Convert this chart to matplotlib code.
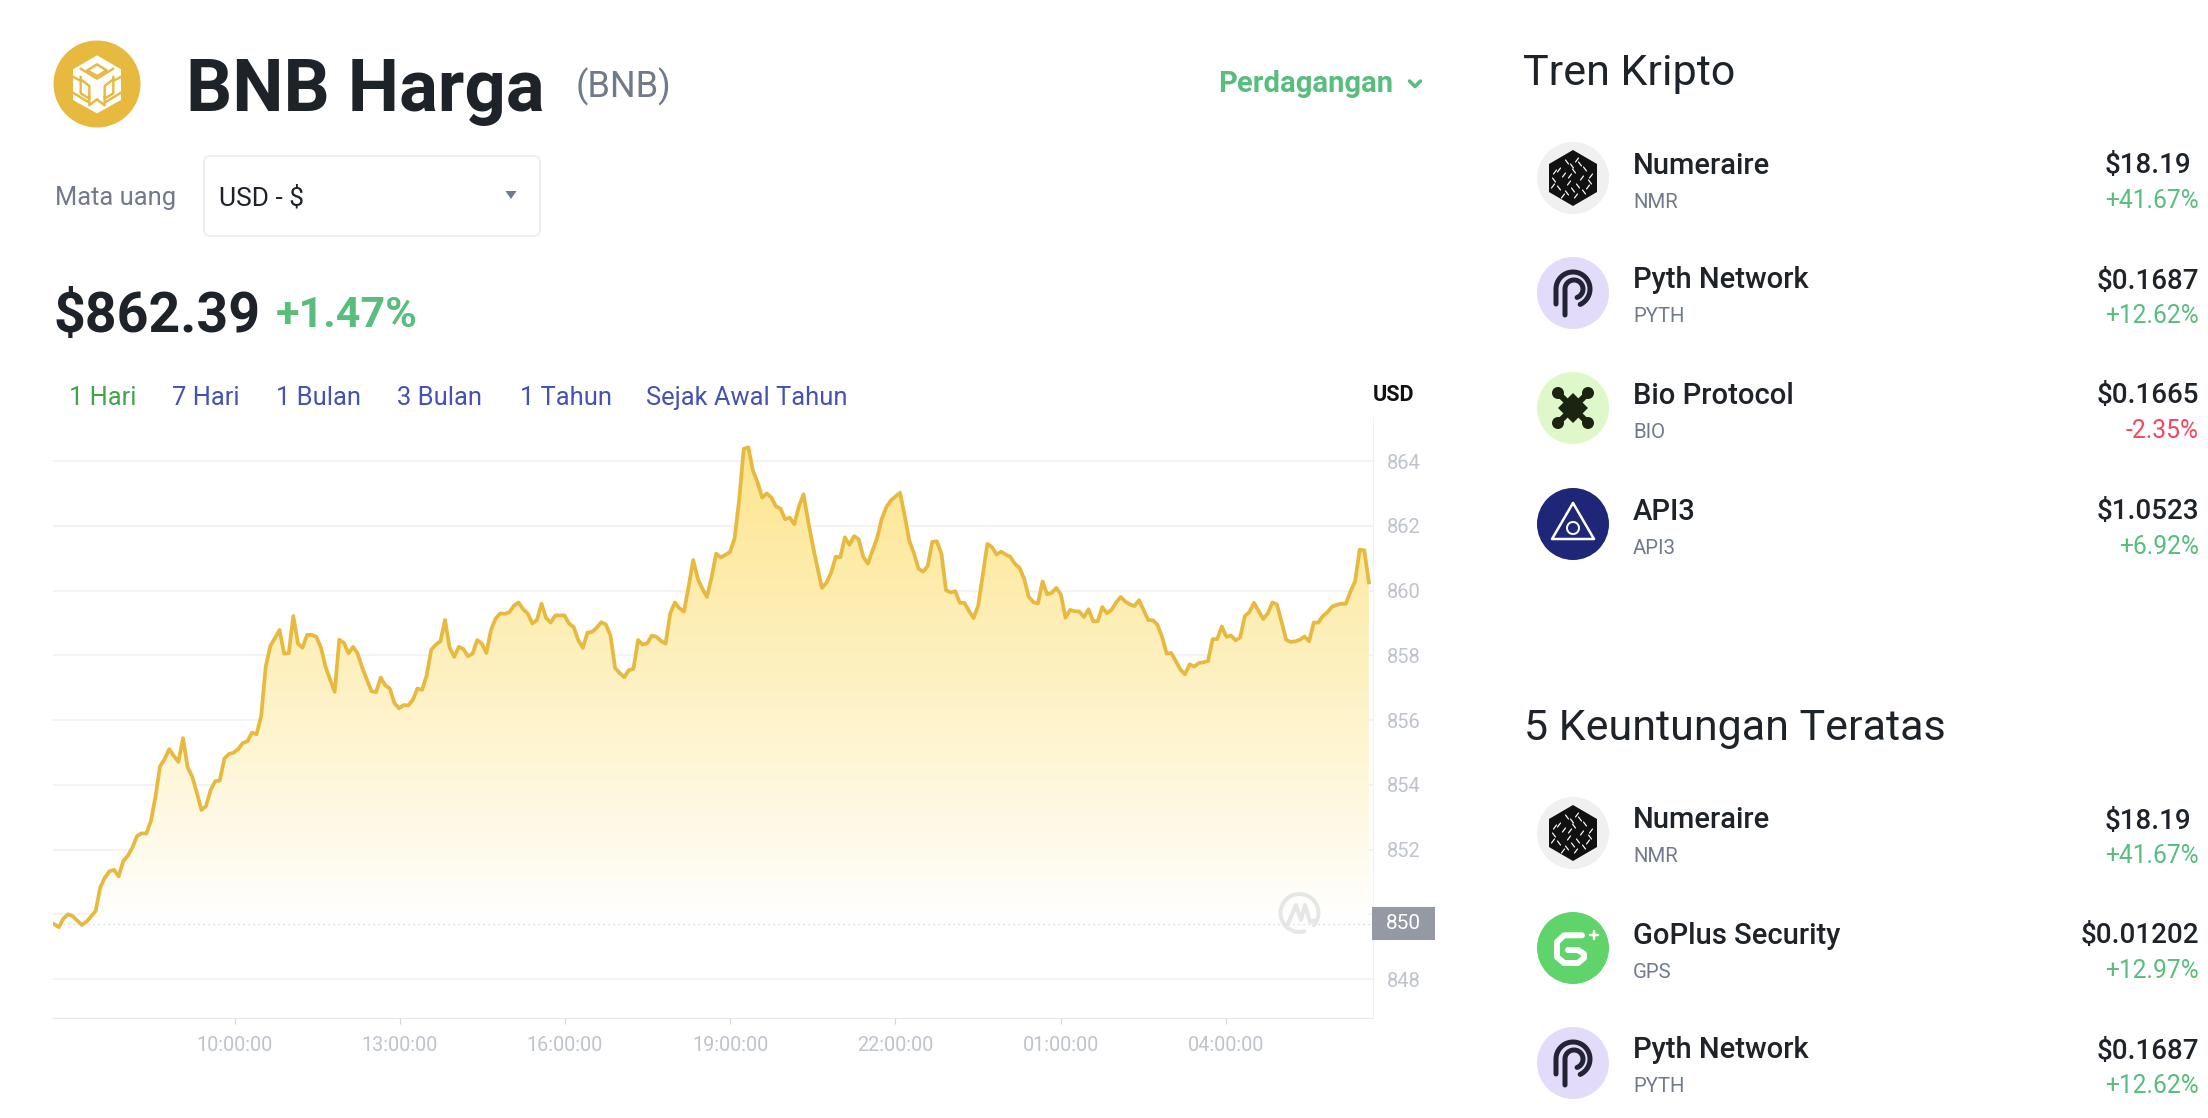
import numpy as np
import matplotlib
matplotlib.use("Agg")
import matplotlib.pyplot as plt
import matplotlib.patches as patches
from matplotlib.colors import LinearSegmentedColormap

plt.rcParams['font.family'] = ['Roboto', 'DejaVu Sans']

# BNB price, one reading every 5 minutes or so
price = [
    849.69, 849.60, 849.87, 850.00, 849.94, 849.80, 849.67, 849.77, 849.93, 850.10,
    850.83, 851.13, 851.33, 851.37, 851.17, 851.64, 851.81, 852.06, 852.42, 852.50,
    852.49, 852.87, 853.62, 854.57, 854.79, 855.10, 854.89, 854.71, 855.44, 854.54,
    854.25, 853.76, 853.22, 853.34, 853.83, 854.11, 854.13, 854.81, 854.95, 854.99,
    855.10, 855.29, 855.34, 855.61, 855.56, 856.12, 857.65, 858.29, 858.53, 858.78,
    858.05, 858.06, 859.21, 858.36, 858.23, 858.63, 858.63, 858.57, 858.24, 857.65,
    857.25, 856.87, 858.48, 858.38, 858.06, 858.26, 858.05, 857.61, 857.25, 856.89,
    856.86, 857.31, 857.07, 856.97, 856.52, 856.36, 856.46, 856.45, 856.62, 856.97,
    856.93, 857.37, 858.17, 858.33, 858.43, 859.09, 858.24, 857.95, 858.26, 858.19,
    857.97, 858.05, 858.47, 858.36, 858.07, 858.78, 859.13, 859.29, 859.28, 859.33,
    859.53, 859.63, 859.42, 859.29, 858.98, 859.09, 859.59, 859.15, 859.01, 859.23,
    859.23, 859.23, 858.98, 858.87, 858.46, 858.23, 858.70, 858.72, 858.85, 859.02,
    858.95, 858.61, 857.61, 857.45, 857.32, 857.54, 857.58, 858.47, 858.33, 858.37,
    858.61, 858.57, 858.44, 858.36, 859.29, 859.63, 859.45, 859.35, 860.12, 860.94,
    860.36, 860.05, 859.80, 860.41, 861.14, 861.02, 861.10, 861.19,
    861.61, 862.81, 864.38, 864.42, 863.70, 863.34, 862.87, 863.00, 862.87, 862.60,
    862.53, 862.20, 862.25, 862.05, 862.60, 862.97, 862.15, 861.40, 860.73, 860.08,
    860.24, 860.55, 861.04, 861.03, 861.64, 861.41, 861.68, 861.58, 861.04, 860.83,
    861.23, 861.61, 862.20, 862.57, 862.78, 862.90, 863.02, 862.32, 861.54, 861.16,
    860.68, 860.58, 860.75, 861.50, 861.52, 861.14, 860.01, 859.94, 859.98, 859.62,
    859.62, 859.37, 859.15, 859.53, 860.48, 861.44, 861.34, 861.11, 861.20, 861.11,
    861.04, 860.82, 860.70, 860.36, 859.80, 859.64, 859.60, 860.28, 859.88, 859.93,
    860.08, 859.87, 859.16, 859.40, 859.36, 859.35, 859.18, 859.42, 859.05, 859.05,
    859.49, 859.30, 859.40, 859.63, 859.80, 859.66, 859.57, 859.52, 859.70, 859.39,
    859.09, 859.08, 858.94, 858.57, 858.05, 858.07, 857.82, 857.56, 857.41, 857.72,
    857.65, 857.76, 857.78, 857.82, 858.50, 858.50, 858.89, 858.57, 858.61, 858.46,
    858.55, 859.21, 859.33, 859.62, 859.37, 859.12, 859.29, 859.63, 859.57, 859.02,
    858.48, 858.41, 858.43, 858.48, 858.58, 858.43, 859.01, 859.01, 859.21, 859.33,
    859.50, 859.56, 859.59, 859.59, 859.97, 860.28, 861.26, 861.24, 860.25,
]
start_hour = 6.726
step_hour = 0.08347
base_price = 849.71

y_ticks = [848, 850, 852, 854, 856, 858, 860, 862, 864]
y_labels = ['848', '', '852', '854', '856', '858', '860', '862', '864']  # 850 sits in the flag
x_ticks = [10, 13, 16, 19, 22, 25, 28]
x_labels = ['10:00:00', '13:00:00', '16:00:00', '19:00:00', '22:00:00', '01:00:00', '04:00:00']

ranges = ['1 Hari', '7 Hari', '1 Bulan', '3 Bulan', '1 Tahun', 'Sejak Awal Tahun']

trend_names = ['Numeraire', 'Pyth Network', 'Bio Protocol', 'API3']
trend_symbols = ['NMR', 'PYTH', 'BIO', 'API3']
trend_prices = ['$18.19', '$0.1687', '$0.1665', '$1.0523']
trend_changes = ['+41.67%', '+12.62%', '-2.35%', '+6.92%']

gain_names = ['Numeraire', 'GoPlus Security', 'Pyth Network']
gain_symbols = ['NMR', 'GPS', 'PYTH']
gain_prices = ['$18.19', '$0.01202', '$0.1687']
gain_changes = ['+41.67%', '+12.97%', '+12.62%']

W, H = 2208, 1118
DARK = '#1E2329'
GREY = '#707A8A'
GREEN = '#58BD7D'
RED = '#F6465D'
GOLD = '#E8B93F'
TICK = '#BFC3CC'

fig = plt.figure(figsize=(W / 100, H / 100), dpi=100, facecolor='white')

# the chart, placed by its pixel box
left, right, top, bottom = 53.4, 1372.5, 417, 1018
ax = fig.add_axes([left / W, 1 - bottom / H, (right - left) / W, (bottom - top) / H])
px_hour = 165.2 / 3
px_unit = 32.375
xlim = (10 - (234.6 - left) / px_hour, 10 + (right - 234.6) / px_hour)
ylim = (848 - (bottom - 979) / px_unit, 864 + (461 - top) / px_unit)

times = start_hour + np.arange(len(price)) * step_hour
values = np.array(price)

ax.grid(axis='y', color='#EFF0F3', linewidth=1.1, zorder=0)
ax.set_axisbelow(True)

# gradient under the line
area = ax.fill_between(times, base_price, values, facecolor='none', edgecolor='none')
cmap = LinearSegmentedColormap.from_list('gold', [(0, '#FFFFFF'), (0.45, '#FEF3C9'), (1, '#FDE58F')])
im = ax.imshow(np.linspace(1, 0, 256).reshape(-1, 1), cmap=cmap, aspect='auto', zorder=1,
               extent=(times[0], times[-1], base_price, values.max()))
im.set_clip_path(area.get_paths()[0], ax.transData)
ax.set_xlim(xlim)
ax.set_ylim(ylim)

ax.axhline(base_price, color='#CFCFCF', linewidth=0.9, linestyle=(0, (1, 3)), zorder=2)
ax.plot(times, values, color=GOLD, linewidth=2.7, solid_joinstyle='round', zorder=3)

for side in ['left', 'top']:
    ax.spines[side].set_visible(False)
ax.spines['right'].set_color('#EFF0F3')
ax.spines['bottom'].set_color('#E6E8EC')
ax.yaxis.tick_right()
ax.set_yticks(y_ticks)
ax.set_yticklabels(y_labels)
ax.tick_params(axis='y', length=0, pad=10, labelsize=14.5, labelcolor=TICK)
ax.set_xticks(x_ticks)
ax.set_xticklabels(x_labels)
ax.tick_params(axis='x', length=4, width=0.8, color='#D5D7DC', pad=9, labelsize=14.3, labelcolor=TICK)

# the rest of the page, in pixels
page = fig.add_axes([0, 0, 1, 1], zorder=5)
page.set_xlim(0, W)
page.set_ylim(H, 0)
page.axis('off')
page.patch.set_visible(False)


def text(x, y, s, size, color=DARK, weight='normal', ha='left', va='baseline'):
    page.text(x, y, s, fontsize=size, color=color, fontweight=weight, ha=ha, va=va)


def stroke(xs, ys, color, width, **kw):
    page.plot(xs, ys, color=color, linewidth=width * 0.72, solid_capstyle='round',
              solid_joinstyle='round', **kw)


def arc(cx, cy, r, a0, a1):
    a = np.radians(np.linspace(a0, a1, 40))
    return cx + r * np.cos(a), cy - r * np.sin(a)


def disc(cx, cy, r, color):
    page.add_patch(patches.Circle((cx, cy), r, facecolor=color, edgecolor='none'))


def icon_nmr(cx, cy):
    disc(cx, cy, 36, '#F0F0F0')
    hexa = [(0, -28), (24, -14), (24, 14), (0, 28), (-24, 14), (-24, -14)]
    page.add_patch(patches.Polygon([(cx + a, cy + b) for a, b in hexa], facecolor='#111111'))
    # little white glyph marks
    marks = [(-14, -8), (-6, -16), (4, -18), (12, -9), (18, -2), (-19, 2), (-9, -3), (1, -7),
             (9, 0), (-14, 10), (-4, 5), (5, 8), (15, 9), (-6, 15), (3, 18), (-1, -12),
             (-18, -6), (7, -14), (-3, -2), (11, 14), (-10, 18), (17, 4), (-20, 8), (0, 12)]
    for i, (a, b) in enumerate(marks):
        d = 2 if i % 2 else -2
        stroke([cx + a - 1.5, cx + a + 1.5], [cy + b - d, cy + b + d], 'white', 1.2)


def icon_pyth(cx, cy):
    disc(cx, cy, 36, '#E3DBFA')
    ink = '#242235'
    xs, ys = arc(cx, cy - 4, 17, 180, -65)
    stroke(np.r_[cx - 17, xs], np.r_[cy + 11, ys], ink, 5)
    xs, ys = arc(cx + 1, cy - 4, 9, 180, -70)
    stroke(np.r_[cx - 8, xs], np.r_[cy + 22, ys], ink, 5)


def icon_bio(cx, cy):
    disc(cx, cy, 36, '#DFF8C9')
    ink = '#1A2410'
    page.add_patch(patches.Polygon([(cx, cy - 15), (cx + 15, cy), (cx, cy + 15), (cx - 15, cy)],
                                   facecolor=ink))
    for a, b in [(-15, -15), (15, -15), (-15, 15), (15, 15)]:
        stroke([cx, cx + a], [cy, cy + b], ink, 6)
        disc(cx + a, cy + b, 6, ink)


def icon_api3(cx, cy):
    disc(cx, cy, 36, '#1E2777')
    stroke([cx, cx + 21, cx - 21, cx], [cy - 21, cy + 15, cy + 15, cy - 21], 'white', 2.5)
    for a0 in [40, 160, 280]:
        xs, ys = arc(cx, cy + 4, 6, a0, a0 + 110)
        stroke(xs, ys, 'white', 2)


def icon_gps(cx, cy):
    disc(cx, cy, 36, '#5FD46B')
    xs = [9, -9, -16, -16, -9, 5, 11, 11, 5, -5]
    ys = [-12.7, -12.7, -6, 9, 15, 15, 10, 6, 2, 2]
    stroke(cx + np.array(xs), cy + np.array(ys), 'white', 6)
    stroke([cx + 17, cx + 25], [cy - 13, cy - 13], 'white', 2.5)
    stroke([cx + 21, cx + 21], [cy - 17, cy - 9], 'white', 2.5)


def logo_bnb():
    disc(97, 84, 43.5, GOLD)
    hexa = [(141, 58), (213, 100), (213, 192), (141, 232), (69, 192), (69, 100)]
    page.add_patch(patches.Polygon([(50 + a / 3, 36 + b / 3) for a, b in hexa], facecolor='white'))
    # gold cuts that leave the lion face in white
    cuts = [
        ([92, 141, 190], [98, 128, 98]),
        ([112, 141, 170, 141, 112], [103, 85, 103, 120, 103]),
        ([69, 92, 92], [122, 135, 122]),
        ([213, 190, 190], [122, 135, 122]),
        ([92, 92, 118, 118, 92], [130, 172, 188, 150, 130]),
        ([190, 190, 164, 164, 190], [130, 172, 188, 150, 130]),
        ([141, 118, 118], [190, 208, 180]),
        ([141, 164, 164], [190, 208, 180]),
        ([69, 118], [170, 200]),
        ([213, 164], [170, 200]),
    ]
    for sx, sy in cuts:
        stroke(50 + np.array(sx) / 3, 36 + np.array(sy) / 3, GOLD, 2.4)


# header
logo_bnb()
text(186, 110.5, 'BNB Harga', 52.2, weight='bold')
text(576, 97, '(BNB)', 26, color=GREY)
text(1218, 92, 'Perdagangan', 21, color=GREEN, weight='bold')
stroke([1409.5, 1415, 1420.5], [81, 86.5, 81], GREEN, 3.5)

text(55, 205, 'Mata uang', 18.4, color=GREY)
page.add_patch(patches.FancyBboxPatch((204, 156), 336, 80, boxstyle='round,pad=0,rounding_size=6',
                                      facecolor='white', edgecolor='#EAECEF', linewidth=1.1))
text(219, 205, 'USD - $', 19)
page.add_patch(patches.Polygon([(505.5, 191), (516.5, 191), (511, 199)], facecolor=GREY))

text(53, 332.5, '$862.39', 40, weight='bold')
text(276, 327, '+1.47%', 31, color=GREEN, weight='bold')

range_x = [69, 172, 276, 397, 520, 646]
for x, s in zip(range_x, ranges):
    text(x, 405, s, 18.4, color='#3DA64B' if s == '1 Hari' else '#4451B5')
text(1373, 401, 'USD', 15.5, color='#111111', weight='bold')

# start price flag and watermark over the chart
page.add_patch(patches.Rectangle((1372, 907), 63, 33, facecolor='#9599A4'))
text(1403.5, 923.5, '850', 15, color='white', ha='center', va='center')
xs, ys = arc(1299.5, 913, 19, -40, 285)
stroke(xs, ys, '#E6E6E6', 4)
stroke([1288, 1296, 1301, 1305, 1310, 1316], [924, 905, 920, 905, 922, 920], '#E6E6E6', 4)

# right column
text(1523, 85.5, 'Tren Kripto', 31, color=DARK)
text(1524, 740, '5 Keuntungan Teratas', 31, color=DARK)


def row(cy, icon, name, symbol, price_s, change):
    icon(1573, cy)
    text(1633, cy - 4.5, name, 21, weight='medium')
    text(1633, cy + 29.5, symbol, 14.7, color=GREY)
    text(2191 if price_s == '$18.19' else 2199, cy - 4.5, price_s, 20, weight='medium', ha='right')
    text(2199, cy + 30, change, 17.7, color=RED if change.startswith('-') else GREEN, ha='right')


trend_icons = [icon_nmr, icon_pyth, icon_bio, icon_api3]
trend_y = [178, 293, 408, 524]
for i in range(4):
    row(trend_y[i], trend_icons[i], trend_names[i], trend_symbols[i], trend_prices[i], trend_changes[i])

gain_icons = [icon_nmr, icon_gps, icon_pyth]
gain_y = [833, 948, 1063]
for i in range(3):
    row(gain_y[i], gain_icons[i], gain_names[i], gain_symbols[i], gain_prices[i], gain_changes[i])

fig.savefig('out.png', dpi=100, facecolor='white')
